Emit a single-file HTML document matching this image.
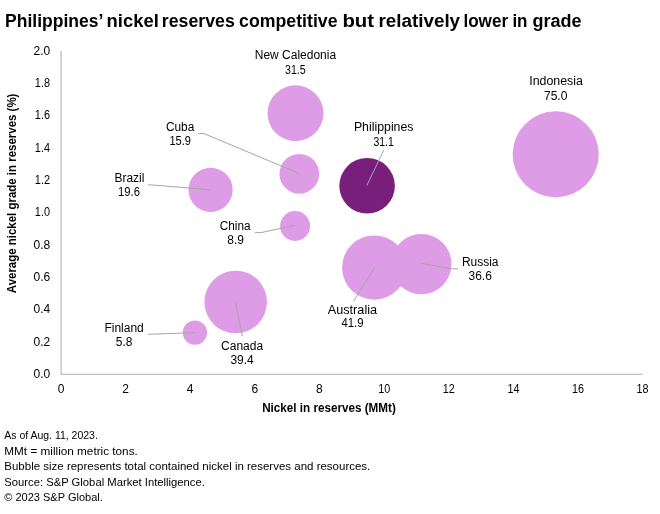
<!DOCTYPE html>
<html>
<head>
<meta charset="utf-8">
<title>Philippines' nickel reserves</title>
<style>
html,body{margin:0;padding:0;background:#fff;}
body{width:660px;height:514px;overflow:hidden;font-family:"Liberation Sans",sans-serif;}
svg{display:block;will-change:transform;opacity:0.9999;}
text{font-family:"Liberation Sans",sans-serif;fill:#000;font-size:12px;}
.b{font-weight:bold;}
.f{font-size:11.5px;}
.lead{stroke:#a6a6a6;stroke-width:1;fill:none;}
.bub{fill:#dd9ce5;}
</style>
</head>
<body>
<svg width="660" height="514" viewBox="0 0 660 514">
<rect width="660" height="514" fill="#fff"/>
<!-- title -->
<g style="font-weight:bold">
<text transform="translate(5.1,26.6) scale(1,1.0008)" style="font-size:17.5px" textLength="98.2" lengthAdjust="spacingAndGlyphs">Philippines’</text>
<text transform="translate(106.6,26.6) scale(1,1.0008)" style="font-size:17.5px" textLength="52.2" lengthAdjust="spacingAndGlyphs">nickel</text>
<text transform="translate(161.8,26.6) scale(1,1.0008)" style="font-size:17.5px" textLength="73.0" lengthAdjust="spacingAndGlyphs">reserves</text>
<text transform="translate(239.1,26.6) scale(1,1.0008)" style="font-size:17.5px" textLength="98.4" lengthAdjust="spacingAndGlyphs">competitive</text>
<text transform="translate(342.4,26.6) scale(1,1.0008)" style="font-size:17.5px" textLength="31.7" lengthAdjust="spacingAndGlyphs">but</text>
<text transform="translate(378.4,26.6) scale(1,1.0008)" style="font-size:17.5px" textLength="81.7" lengthAdjust="spacingAndGlyphs">relatively</text>
<text transform="translate(463.4,26.6) scale(1,1.0008)" style="font-size:17.5px" textLength="44.7" lengthAdjust="spacingAndGlyphs">lower</text>
<text transform="translate(512.4,26.6) scale(1,1.0008)" style="font-size:17.5px" textLength="15.1" lengthAdjust="spacingAndGlyphs">in</text>
<text transform="translate(532.4,26.6) scale(1,1.0008)" style="font-size:17.5px" textLength="49.1" lengthAdjust="spacingAndGlyphs">grade</text>
</g>
<!-- axes -->
<line x1="61.05" y1="51" x2="61.05" y2="374.2" stroke="#bfbfbf" stroke-width="1.35"/>
<line x1="61" y1="374.4" x2="642.7" y2="374.4" stroke="#bfbfbf" stroke-width="1.2"/>
<!-- y ticks -->
<text x="50.2" y="54.7" text-anchor="end">2.0</text>
<text x="50" y="87.0" text-anchor="end" textLength="15.2" lengthAdjust="spacingAndGlyphs">1.8</text>
<text x="50" y="119.3" text-anchor="end" textLength="15.2" lengthAdjust="spacingAndGlyphs">1.6</text>
<text x="50" y="151.7" text-anchor="end" textLength="15.2" lengthAdjust="spacingAndGlyphs">1.4</text>
<text x="50" y="184.0" text-anchor="end" textLength="15.2" lengthAdjust="spacingAndGlyphs">1.2</text>
<text x="50" y="216.3" text-anchor="end" textLength="15.2" lengthAdjust="spacingAndGlyphs">1.0</text>
<text x="50.2" y="248.6" text-anchor="end">0.8</text>
<text x="50.2" y="280.9" text-anchor="end">0.6</text>
<text x="50.2" y="313.3" text-anchor="end">0.4</text>
<text x="50.2" y="345.6" text-anchor="end">0.2</text>
<text x="50.2" y="377.9" text-anchor="end">0.0</text>
<!-- x ticks -->
<text x="61.0" y="393" text-anchor="middle">0</text>
<text x="125.6" y="393" text-anchor="middle">2</text>
<text x="190.2" y="393" text-anchor="middle">4</text>
<text x="254.8" y="393" text-anchor="middle">6</text>
<text x="319.4" y="393" text-anchor="middle">8</text>
<text x="378.2" y="393" textLength="12.0" lengthAdjust="spacingAndGlyphs">10</text>
<text x="442.8" y="393" textLength="12.0" lengthAdjust="spacingAndGlyphs">12</text>
<text x="507.4" y="393" textLength="12.0" lengthAdjust="spacingAndGlyphs">14</text>
<text x="572.0" y="393" textLength="12.0" lengthAdjust="spacingAndGlyphs">16</text>
<text x="636.6" y="393" textLength="12.0" lengthAdjust="spacingAndGlyphs">18</text>
<!-- axis titles -->
<text class="b" x="262.2" y="411.8" textLength="133.6" lengthAdjust="spacingAndGlyphs">Nickel in reserves (MMt)</text>
<text class="b" transform="translate(15.8,293.2) rotate(-90)" textLength="199.6" lengthAdjust="spacingAndGlyphs">Average nickel grade in reserves (%)</text>
<!-- bubbles -->
<g class="bub">
<circle cx="555.7" cy="154.35" r="43.05"/>
<circle cx="295.5" cy="113.3" r="27.95"/>
<circle cx="299.3" cy="173.8" r="19.85"/>
<circle cx="210.6" cy="189.8" r="22.1"/>
<circle cx="295.1" cy="226" r="15"/>
<circle cx="374.3" cy="267.6" r="32.2"/>
<circle cx="421.4" cy="264.1" r="30.1"/>
<circle cx="235.7" cy="302" r="31.3"/>
<circle cx="194.9" cy="332.6" r="12.2"/>
</g>
<circle cx="367.1" cy="185.8" r="27.8" fill="#771f7b"/>
<!-- leaders -->
<g class="lead">
<polyline points="198.3,133.6 204,133.6 299.3,173.5"/>
<polyline points="148.1,184.8 154,185.1 210.7,189.8"/>
<polyline points="255,232.6 261,232.6 295.1,225.4"/>
<polyline points="383.7,150.1 366.8,185.6"/>
<polyline points="458.4,268.9 452.6,268.9 421.5,263.4"/>
<polyline points="374.5,267.5 353.6,301.3"/>
<polyline points="147.8,334.3 194.6,332.6"/>
<polyline points="235.4,301.7 242.3,336"/>
</g>
<!-- labels -->
<text transform="translate(295.4,59.1) scale(1,1.02)" text-anchor="middle">New Caledonia</text>
<text transform="translate(285.1,73.7) scale(1,1.02)" textLength="20.6" lengthAdjust="spacingAndGlyphs">31.5</text>
<text transform="translate(165.9,131) scale(1,1.02)" textLength="28.4" lengthAdjust="spacingAndGlyphs">Cuba</text>
<text transform="translate(169.4,144.7) scale(1,1.02)" textLength="21.5" lengthAdjust="spacingAndGlyphs">15.9</text>
<text transform="translate(129.4,181.7) scale(1,1.02)" text-anchor="middle">Brazil</text>
<text transform="translate(118.0,195.7) scale(1,1.02)" textLength="21.9" lengthAdjust="spacingAndGlyphs">19.6</text>
<text transform="translate(219.7,230.0) scale(1,1.02)" textLength="30.8" lengthAdjust="spacingAndGlyphs">China</text>
<text transform="translate(235.7,244.0) scale(1,1.02)" text-anchor="middle">8.9</text>
<text transform="translate(353.9,131) scale(1,1.02)" textLength="59.6" lengthAdjust="spacingAndGlyphs">Philippines</text>
<text transform="translate(373.5,145.8) scale(1,1.02)" textLength="20.3" lengthAdjust="spacingAndGlyphs">31.1</text>
<text transform="translate(529.2,84.9) scale(1,1.02)" textLength="53.7" lengthAdjust="spacingAndGlyphs">Indonesia</text>
<text transform="translate(555.7,99.5) scale(1,1.02)" text-anchor="middle">75.0</text>
<text transform="translate(480.2,265.7) scale(1,1.02)" text-anchor="middle">Russia</text>
<text transform="translate(480.2,279.7) scale(1,1.02)" text-anchor="middle">36.6</text>
<text transform="translate(327.7,313.8) scale(1,1.02)" textLength="49.4" lengthAdjust="spacingAndGlyphs">Australia</text>
<text transform="translate(341.4,327.4) scale(1,1.02)" textLength="22.1" lengthAdjust="spacingAndGlyphs">41.9</text>
<text transform="translate(124.1,331.9) scale(1,1.02)" text-anchor="middle">Finland</text>
<text transform="translate(124.1,345.5) scale(1,1.02)" text-anchor="middle">5.8</text>
<text transform="translate(242.1,350) scale(1,1.02)" text-anchor="middle">Canada</text>
<text transform="translate(242.1,363.9) scale(1,1.02)" text-anchor="middle">39.4</text>
<!-- footer -->
<text x="4.3" y="439" textLength="93.5" lengthAdjust="spacingAndGlyphs" class="f">As of Aug. 11, 2023.</text>
<text x="4.3" y="454.6" textLength="133.5" lengthAdjust="spacingAndGlyphs" class="f">MMt = million metric tons.</text>
<text x="4.3" y="470.1" textLength="366" lengthAdjust="spacingAndGlyphs" class="f">Bubble size represents total contained nickel in reserves and resources.</text>
<text x="4.3" y="485.6" textLength="200.5" lengthAdjust="spacingAndGlyphs" class="f">Source: S&amp;P Global Market Intelligence.</text>
<text x="4.3" y="501.1" textLength="98.5" lengthAdjust="spacingAndGlyphs" class="f">© 2023 S&amp;P Global.</text>
</svg>
</body>
</html>
